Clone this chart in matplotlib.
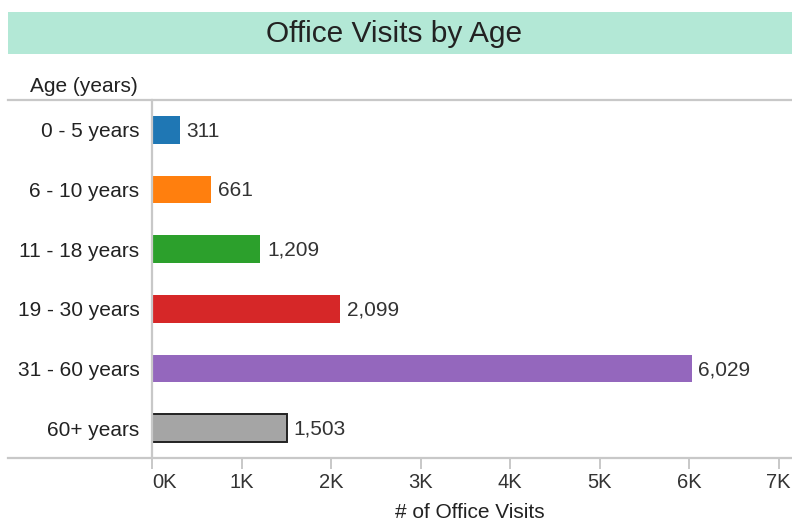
import matplotlib
matplotlib.use("Agg")
import matplotlib.pyplot as plt
from matplotlib.lines import Line2D
from matplotlib.patches import Rectangle

categories = ["0 - 5 years", "6 - 10 years", "11 - 18 years", "19 - 30 years", "31 - 60 years", "60+ years"]
values = [311, 661, 1209, 2099, 6029, 1503]
colors = ["#1f77b4", "#ff7f0e", "#2ca02c", "#d62728", "#9467bd", "#a5a5a5"]
xticks = [0, 1000, 2000, 3000, 4000, 5000, 6000, 7000]
xtick_labels = ["0K", "1K", "2K", "3K", "4K", "5K", "6K", "7K"]

plt.rcParams['font.family'] = ['Liberation Sans', 'DejaVu Sans']

W, H = 792, 522
fig = plt.figure(figsize=(W / 100, H / 100), dpi=100)

def fx(x):
    return x / W

def fy(y):
    return 1 - y / H

# title band
fig.patches.append(Rectangle((fx(8), fy(54)), fx(792) - fx(8), fy(12) - fy(54),
                             transform=fig.transFigure, facecolor="#b3e8d6", edgecolor="none", zorder=0))
fig.text(fx(394), fy(34), "Office Visits by Age", ha="center", va="center", fontsize=21.5, color="#222222")
fig.text(fx(30), fy(86), "Age (years)", ha="left", va="center", fontsize=15, color="#222222")

line_col = "#c8c8c8"
fig.add_artist(Line2D([fx(8), fx(792)], [fy(100), fy(100)], transform=fig.transFigure, color=line_col, lw=1.6))
fig.add_artist(Line2D([fx(8), fx(792)], [fy(458), fy(458)], transform=fig.transFigure, color=line_col, lw=1.6))

ax = fig.add_axes([fx(152), fy(458), fx(792) - fx(152), fy(100) - fy(458)])
y = list(range(len(categories)))
for i, (v, c) in enumerate(zip(values, colors)):
    edge = "#222222" if i == len(values) - 1 else "none"
    ax.barh(i, v, height=0.46, color=c, edgecolor=edge, linewidth=1.4 if edge != "none" else 0)
    ax.text(v + 75, i + 0.02, f"{v:,}", va="center", ha="left", fontsize=15, color="#333333")

ax.set_ylim(len(categories) - 0.5, -0.5)
ax.set_xlim(0, 7150)
ax.set_yticks(y)
ax.set_yticklabels(categories, fontsize=15, color="#222222")
ax.tick_params(axis="y", length=0, pad=9)
ax.set_xticks(xticks)
ax.set_xticklabels(xtick_labels, fontsize=14.5, color="#333333")
ax.tick_params(axis="x", length=8, width=1.4, color=line_col, pad=3)
labs = ax.get_xticklabels()
labs[0].set_horizontalalignment("left")
for s in ["top", "right", "bottom"]:
    ax.spines[s].set_visible(False)
ax.spines["left"].set_color(line_col)
ax.spines["left"].set_linewidth(1.6)
ax.set_xlabel("# of Office Visits", fontsize=15, color="#222222")
ax.xaxis.set_label_coords((fx(470) - fx(152)) / (fx(792) - fx(152)), -0.125)
ax.patch.set_alpha(0)

fig.savefig("out.png", dpi=100)
